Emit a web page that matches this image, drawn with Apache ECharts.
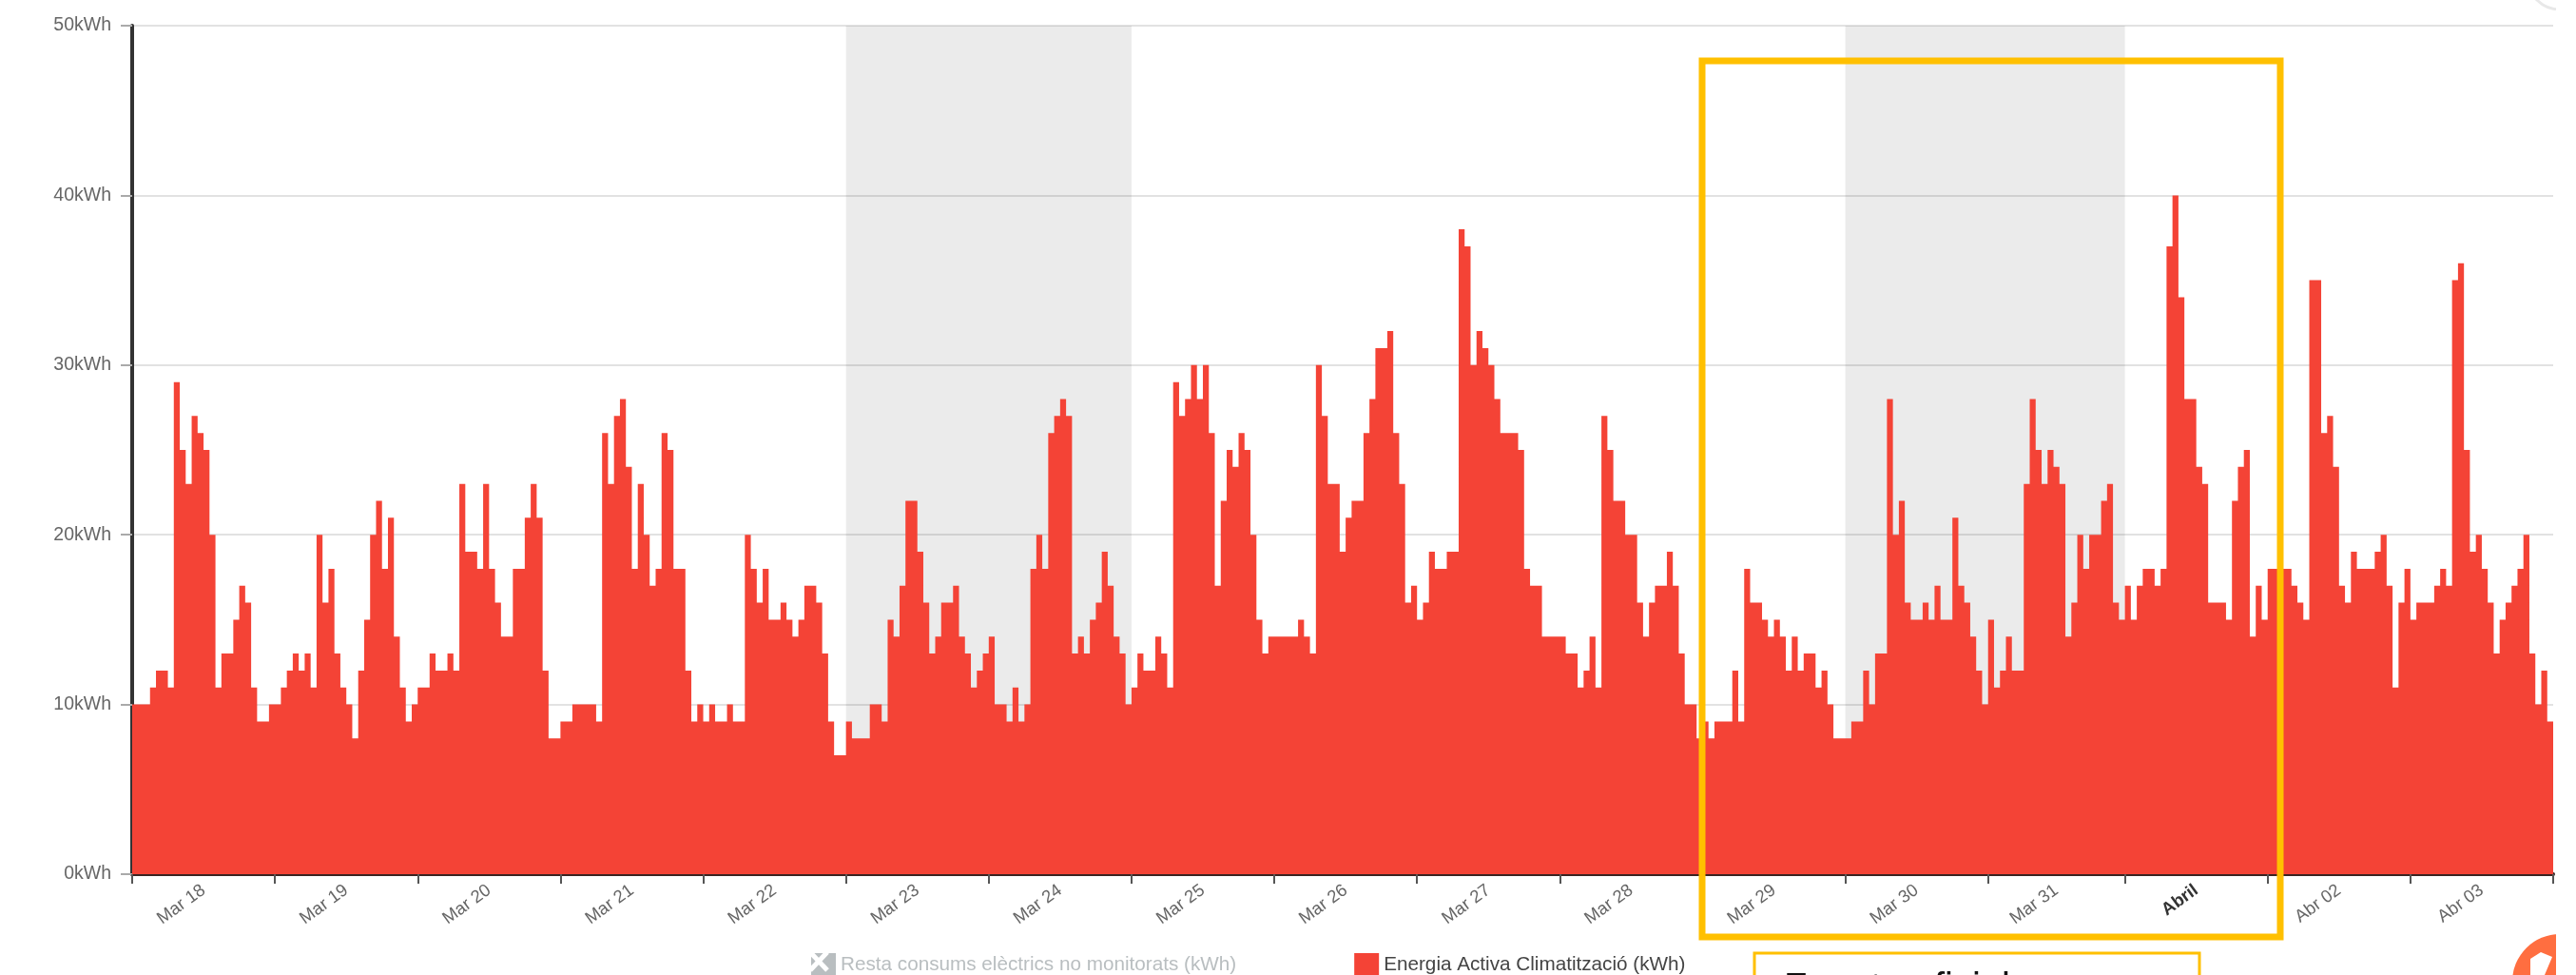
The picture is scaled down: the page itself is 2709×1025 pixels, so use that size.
<!DOCTYPE html>
<html>
<head>
<meta charset="utf-8">
<style>
  html, body { margin: 0; padding: 0; background: #fff; overflow: hidden; }
  #chart { width: 2709px; height: 1025px; }
</style>
<script src="https://cdn.jsdelivr.net/npm/echarts@6/dist/echarts.min.js"></script>
</head>
<body>
<div id="chart"></div>
<script>
const dayLabels = ["Mar 18", "Mar 19", "Mar 20", "Mar 21", "Mar 22", "Mar 23", "Mar 24", "Mar 25", "Mar 26", "Mar 27", "Mar 28", "Mar 29", "Mar 30", "Mar 31", "Abril", "Abr 02", "Abr 03"];
const weekendDays = [[5, 6], [12, 13]];

// hourly kWh per day. Mar 31 only has 23 hours (clock change)
const mar18 = [10,10,10,11,12,12,11,29,25,23,27,26,25,20,11,13,13,15,17,16,11,9,9,10];
const mar19 = [10,11,12,13,12,13,11,20,16,18,13,11,10,8,12,15,20,22,18,21,14,11,9,10];
const mar20 = [11,11,13,12,12,13,12,23,19,19,18,23,18,16,14,14,18,18,21,23,21,12,8,8];
const mar21 = [9,9,10,10,10,10,9,26,23,27,28,24,18,23,20,17,18,26,25,18,18,12,9,10];
const mar22 = [9,10,9,9,10,9,9,20,18,16,18,15,15,16,15,14,15,17,17,16,13,9,7,7];
const mar23 = [9,8,8,8,10,10,9,15,14,17,22,22,19,16,13,14,16,16,17,14,13,11,12,13];
const mar24 = [14,10,10,9,11,9,10,18,20,18,26,27,28,27,13,14,13,15,16,19,17,14,13,10];
const mar25 = [11,13,12,12,14,13,11,29,27,28,30,28,30,26,17,22,25,24,26,25,20,15,13,14];
const mar26 = [14,14,14,14,15,14,13,30,27,23,23,19,21,22,22,26,28,31,31,32,26,23,16,17];
const mar27 = [15,16,19,18,18,19,19,38,37,30,32,31,30,28,26,26,26,25,18,17,17,14,14,14];
const mar28 = [14,13,13,11,12,14,11,27,25,22,22,20,20,16,14,16,17,17,19,17,13,10,10,8];
const mar29 = [9,8,9,9,9,12,9,18,16,16,15,14,15,14,12,14,12,13,13,11,12,10,8,8];
const mar30 = [8,9,9,12,10,13,13,28,20,22,16,15,15,16,15,17,15,15,21,17,16,14,12,10];
const mar31 = [15,11,12,14,12,12,23,28,25,23,25,24,23,14,16,20,18,20,20,22,23,16,15];
const apr01 = [17,15,17,18,18,17,18,37,40,34,28,28,24,23,16,16,16,15,22,24,25,14,17,15];
const apr02 = [18,18,18,18,17,16,15,35,35,26,27,24,17,16,19,18,18,18,19,20,17,11,16,18];
const apr03 = [15,16,16,16,17,18,17,35,36,25,19,20,18,16,13,15,16,17,18,20,13,10,12,9];

const days = [mar18, mar19, mar20, mar21, mar22, mar23, mar24, mar25, mar26, mar27, mar28, mar29, mar30, mar31, apr01, apr02, apr03];

const dayStarts = [];
const points = [];
let hour = 0;
days.forEach((day) => {
  dayStarts.push(hour);
  day.forEach((v) => {
    points.push([hour, v]);
    hour += 1;
  });
});
const totalHours = hour;
dayStarts.push(totalHours);
// the step line needs an end point to close the last hour
points.push([totalHours, points[points.length - 1][1]]);

const labelAt = dayLabels.map((_, i) => (dayStarts[i] + dayStarts[i + 1]) / 2);

const chart = echarts.init(document.getElementById("chart"));
chart.setOption({
  animation: false,
  textStyle: { fontFamily: "Liberation Sans, Arial, sans-serif" },
  grid: { left: 139, right: 24, top: 27, bottom: 106, containLabel: false },
  legend: {
    left: 848,
    top: 997,
    itemWidth: 26,
    itemHeight: 25,
    itemGap: 124,
    icon: "rect",
    selected: { "Resta consums elèctrics no monitorats (kWh)": false },
    inactiveColor: "#b9bec0",
    textStyle: { fontSize: 20.7, color: "#444" },
    data: ["Resta consums elèctrics no monitorats (kWh)", "Energia Activa Climatització (kWh)"],
  },
  xAxis: {
    type: "value",
    min: 0,
    max: totalHours,
    splitLine: { show: false },
    axisLine: { lineStyle: { color: "#3b2422", width: 4 } },
    axisTick: { customValues: dayStarts, length: 10, lineStyle: { color: "#555", width: 2 } },
    axisLabel: {
      customValues: labelAt,
      rotate: 36,
      margin: 15,
      fontSize: 18.5,
      color: "#666",
      formatter: (v) => {
        const name = dayLabels[labelAt.indexOf(v)];
        return name === "Abril" ? `{bold|${name}}` : name;
      },
      rich: { bold: { fontWeight: "bold", fontSize: 18.5, color: "#333" } },
    },
  },
  yAxis: {
    type: "value",
    min: 0,
    max: 50,
    interval: 10,
    axisLine: { show: true, lineStyle: { color: "#333", width: 4 } },
    axisTick: { show: true, length: 12, lineStyle: { color: "#aaa", width: 2 } },
    axisLabel: { margin: 22, fontSize: 19.5, color: "#666", formatter: (v) => `${v}kWh` },
    splitLine: { lineStyle: { color: "#e2e2e2", width: 2 } },
  },
  series: [
    {
      name: "Resta consums elèctrics no monitorats (kWh)",
      type: "line",
      data: [],
      itemStyle: { color: "#b9bec0" },
    },
    {
      name: "Energia Activa Climatització (kWh)",
      type: "line",
      step: "end",
      showSymbol: false,
      data: points,
      itemStyle: { color: "#f44336" },
      lineStyle: { width: 0 },
      areaStyle: { color: "#f44336", opacity: 1 },
      z: 3,
      markArea: {
        silent: true,
        itemStyle: { color: "rgba(0,0,0,0.08)" },
        data: weekendDays.map(([a, b]) => [{ xAxis: dayStarts[a] }, { xAxis: dayStarts[b + 1] }]),
      },
    },
  ],
  graphic: [
    // yellow highlight box drawn over the picture
    { type: "rect", z: 100, shape: { x: 1790, y: 64, width: 608, height: 921 }, style: { fill: "none", stroke: "#ffc000", lineWidth: 7 } },
    { type: "rect", z: 100, shape: { x: 1845, y: 1002, width: 468, height: 40 }, style: { fill: "#fff", stroke: "#ffc000", lineWidth: 3 } },
    { type: "text", z: 101, style: { x: 1876, y: 1020, text: "Fuente oficial", fontSize: 40, fontFamily: "Liberation Sans", fill: "#111" } },
    // crossed legend icon
    { type: "polyline", z: 101, shape: { points: [[852, 1001], [870, 1020]] }, style: { stroke: "#fff", lineWidth: 5 } },
    { type: "polyline", z: 101, shape: { points: [[870, 1001], [852, 1020]] }, style: { stroke: "#fff", lineWidth: 5 } },
    // corner badge and faint arc, cut off at the screenshot's right edge
    { type: "circle", z: 100, shape: { cx: 2692, cy: 1032, r: 50 }, style: { fill: "#ff6e40" } },
    { type: "polygon", z: 101, shape: { points: [[2661, 1025], [2661, 1008], [2672, 1001], [2684, 1006], [2676, 1025]] }, style: { fill: "#fff" } },
    { type: "circle", z: 100, shape: { cx: 2692, cy: -24, r: 34 }, style: { fill: "none", stroke: "#e8e8e8", lineWidth: 3 } },
    { type: "rect", z: 102, shape: { x: 2688, y: 0, width: 21, height: 1025 }, style: { fill: "#fff" } },
  ],
});
</script>
</body>
</html>
